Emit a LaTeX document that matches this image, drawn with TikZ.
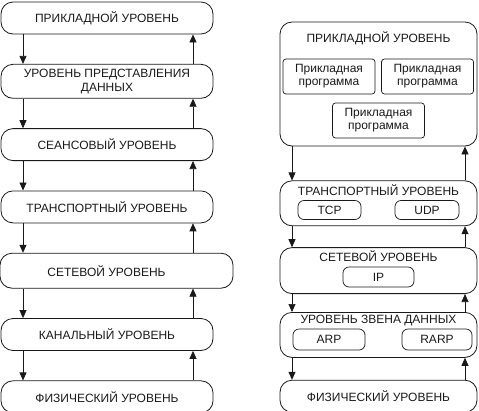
\documentclass[tikz,border=0pt]{standalone}
\usepackage{fontspec}
\setmainfont{Liberation Sans}
\usetikzlibrary{arrows.meta,positioning}
\definecolor{ink}{gray}{0.1}
\tikzstyle{layerArrow} = [-{Triangle[length=8pt,width=7pt]}, line width=0.7pt, color=ink]
\tikzstyle{stdLayer} = [shape = rectangle, draw = ink, line width=0.8pt, rounded corners=12pt, minimum width=212pt, minimum height=32pt, align=center, text=ink, font=\fontsize{12}{14}\selectfont]
\tikzstyle{layerTitle} = [text=ink, font=\fontsize{12}{14}\selectfont]
\tikzstyle{progBox} = [shape = rectangle, draw = ink, line width=0.7pt, rounded corners=3pt, minimum width=92pt, minimum height=35pt, inner sep=1pt, align=center, text=ink, font=\fontsize{12}{13}\selectfont]
\tikzstyle{protoBox} = [progBox, rounded corners=6pt, minimum height=19pt]

\begin{document}
\begin{tikzpicture}[x=1pt, y=-1pt]
\useasboundingbox (0,0) rectangle (479,410);
\coordinate (lDown) at (23,0);
\coordinate (lUp) at (193,0);
\coordinate (rDown) at (292,0);
\coordinate (rUp) at (465,0);

% OSI model
\node (app) [stdLayer] at (107,18) {ПРИКЛАДНОЙ УРОВЕНЬ};
\node (pres) [stdLayer, minimum height=34pt, below=29.5pt of app] {УРОВЕНЬ ПРЕДСТАВЛЕНИЯ\\ДАННЫХ};
\node (sess) [stdLayer, below=29.5pt of pres] {СЕАНСОВЫЙ УРОВЕНЬ};
\node (trans) [stdLayer, below=29.5pt of sess] {ТРАНСПОРТНЫЙ УРОВЕНЬ};
\node (net) [stdLayer, minimum width=233pt, minimum height=35pt, below=29.5pt of trans.south west, anchor=north west, xshift=-1pt] {СЕТЕВОЙ УРОВЕНЬ\hspace*{20pt}};
\node (link) [stdLayer, below=29.5pt of net.south west, anchor=north west, xshift=1pt] {КАНАЛЬНЫЙ УРОВЕНЬ};
\node (phys) [stdLayer, below=29.5pt of link] {ФИЗИЧЕСКИЙ УРОВЕНЬ};

\draw[layerArrow] (app.south -| lDown) -- (pres.north -| lDown);
\draw[layerArrow] (pres.south -| lDown) -- (sess.north -| lDown);
\draw[layerArrow] (sess.south -| lDown) -- (trans.north -| lDown);
\draw[layerArrow] (trans.south -| lDown) -- (net.north -| lDown);
\draw[layerArrow] (net.south -| lDown) -- (link.north -| lDown);
\draw[layerArrow] (link.south -| lDown) -- (phys.north -| lDown);
\draw[layerArrow] (pres.north -| lUp) -- (app.south -| lUp);
\draw[layerArrow] (sess.north -| lUp) -- (pres.south -| lUp);
\draw[layerArrow] (trans.north -| lUp) -- (sess.south -| lUp);
\draw[layerArrow] (net.north -| lUp) -- (trans.south -| lUp);
\draw[layerArrow] (link.north -| lUp) -- (net.south -| lUp);
\draw[layerArrow] (phys.north -| lUp) -- (link.south -| lUp);

% TCP/IP stack
\node (rApp) [stdLayer, minimum width=197pt, minimum height=124pt] at (378.5,84) {};
\node (rAppTitle) [layerTitle] at (378.5,38) {ПРИКЛАДНОЙ УРОВЕНЬ};
\node (prog1) [progBox] at (329,76.5) {Прикладная\\программа};
\node (prog2) [progBox] at (427.5,76.5) {Прикладная\\программа};
\node (prog3) [progBox] at (378.5,120.5) {Прикладная\\программа};

\node (rTrans) [stdLayer, minimum width=197pt, minimum height=45pt, below=34pt of rApp] {};
\node (rTransTitle) [layerTitle] at (378.5,190) {ТРАНСПОРТНЫЙ УРОВЕНЬ};
\node (tcp) [protoBox, minimum width=63pt] at (329.5,210) {TCP};
\node (udp) [protoBox, minimum width=64pt] at (427,210) {UDP};

\node (rNet) [stdLayer, minimum width=197pt, minimum height=46pt, below=21pt of rTrans] {};
\node (rNetTitle) [layerTitle] at (378.5,256) {СЕТЕВОЙ УРОВЕНЬ};
\node (ip) [protoBox, minimum width=71pt, minimum height=20pt] at (378.5,277) {IP};

\node (rLink) [stdLayer, minimum width=197pt, minimum height=45pt, below=18pt of rNet] {};
\node (rLinkTitle) [layerTitle] at (378.5,320) {УРОВЕНЬ ЗВЕНА ДАННЫХ};
\node (arp) [protoBox, minimum width=72pt, minimum height=21pt] at (329,339.5) {ARP};
\node (rarp) [protoBox, minimum width=70pt, minimum height=21pt] at (437,339.5) {RARP};

\node (rPhys) [stdLayer, minimum width=197pt, below=22pt of rLink] {ФИЗИЧЕСКИЙ УРОВЕНЬ};

\draw[layerArrow] (rApp.south -| rDown) -- (rTrans.north -| rDown);
\draw[layerArrow] (rTrans.south -| rDown) -- (rNet.north -| rDown);
\draw[layerArrow] (rNet.south -| rDown) -- (rLink.north -| rDown);
\draw[layerArrow] (rLink.south -| rDown) -- (rPhys.north -| rDown);
\draw[layerArrow] (rTrans.north -| rUp) -- (rApp.south -| rUp);
\draw[layerArrow] (rNet.north -| rUp) -- (rTrans.south -| rUp);
\draw[layerArrow] (rLink.north -| rUp) -- (rNet.south -| rUp);
\draw[layerArrow] (rPhys.north -| rUp) -- (rLink.south -| rUp);
\end{tikzpicture}
\end{document}
